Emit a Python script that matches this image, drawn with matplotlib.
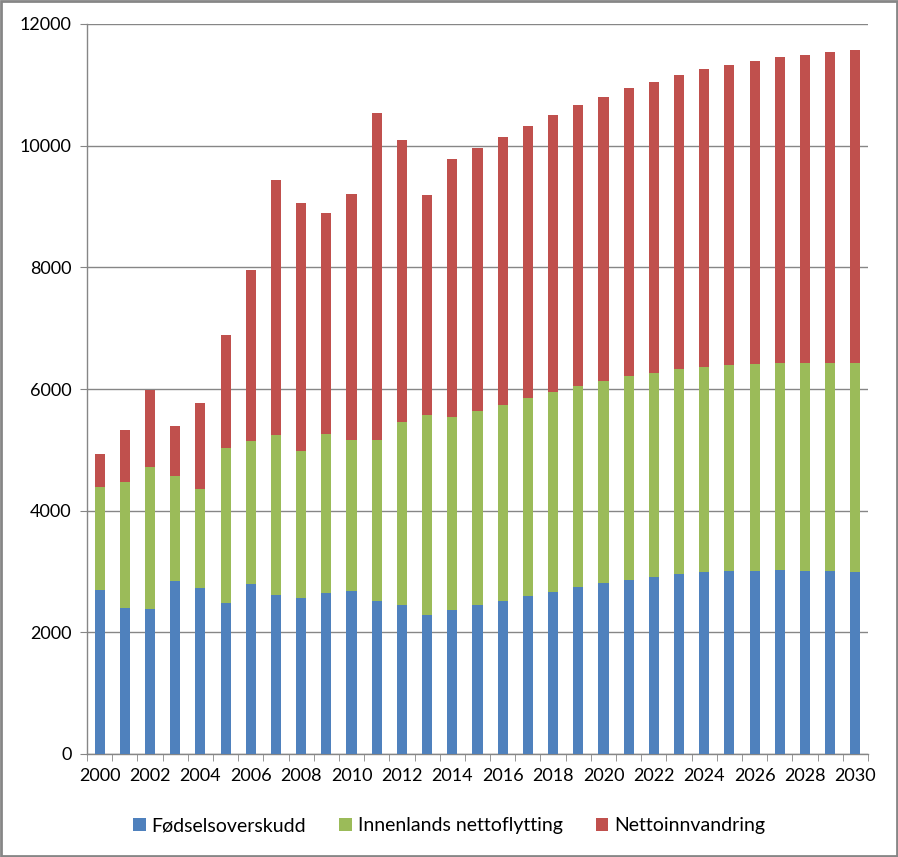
import matplotlib
matplotlib.use("Agg")
import matplotlib.pyplot as plt
import numpy as np

years = list(range(2000, 2031))
# cumulative tops
blue_top = [2693, 2397, 2381, 2841, 2726, 2480, 2791, 2611, 2562, 2644, 2676,
            2512, 2447, 2282, 2364, 2447, 2512, 2594, 2660, 2742, 2808,
            2857, 2906, 2956, 2988, 3005, 3005, 3021, 3005, 3005, 2988]
green_top = [4384, 4466, 4713, 4565, 4351, 5025, 5140, 5238, 4975, 5254, 5156,
             5156, 5451, 5566, 5534, 5632, 5731, 5846, 5944, 6043, 6125,
             6207, 6256, 6322, 6355, 6387, 6404, 6420, 6420, 6420, 6420]
red_top = [4926, 5320, 5990, 5386, 5763, 6880, 7964, 9442, 9064, 8900, 9212,
           10542, 10098, 9195, 9786, 9967, 10148, 10328, 10509, 10673, 10804,
           10952, 11051, 11166, 11264, 11330, 11395, 11461, 11494, 11543, 11576]

fodsel = np.array(blue_top)
innenlands = np.array(green_top) - np.array(blue_top)
netto = np.array(red_top) - np.array(green_top)

labels = ["Fødselsoverskudd", "Innenlands nettoflytting", "Nettoinnvandring"]
colors = ["#4F81BD", "#9BBB59", "#C0504D"]

plt.rcParams['font.family'] = ['Lato', 'DejaVu Sans']
fig = plt.figure(figsize=(8.98, 8.57), dpi=100)
ax = fig.add_axes([87/898, 103/857, 781/898, 730/857])

x = np.arange(len(years))
w = 0.4
ax.bar(x, fodsel, w, color=colors[0], label=labels[0], zorder=3)
ax.bar(x, innenlands, w, bottom=fodsel, color=colors[1], label=labels[1], zorder=3)
ax.bar(x, netto, w, bottom=fodsel + innenlands, color=colors[2], label=labels[2], zorder=3)

ax.set_xlim(-0.5, len(years) - 0.5)
ax.set_ylim(0, 12000)
ax.set_yticks(range(0, 12001, 2000))
ax.tick_params(axis='y', labelsize=13, length=5, color='#868686', pad=6)
ax.yaxis.grid(True, color='#868686', linewidth=1, zorder=0)
ax.set_axisbelow(True)

ax.set_xticks(x[::2])
ax.set_xticklabels([str(y) for y in years[::2]], fontsize=13)
ax.set_xticks(np.arange(-0.5, len(years), 1), minor=True)
ax.tick_params(axis='x', which='major', length=0, pad=10)
ax.tick_params(axis='x', which='minor', length=5, color='#868686')

for s in ['top', 'right']:
    ax.spines[s].set_visible(False)
for s in ['left', 'bottom']:
    ax.spines[s].set_color('#868686')
    ax.spines[s].set_linewidth(1)

handles, labs = ax.get_legend_handles_labels()
fig.legend(handles, labs, loc='center', bbox_to_anchor=(0.5, 1 - 826/857), ncol=3,
           frameon=False, fontsize=14, handlelength=0.65, handleheight=0.65,
           handletextpad=0.3, columnspacing=1.7)

border = plt.Rectangle((0.001, 0.001), 0.998, 0.998, transform=fig.transFigure,
                       fill=False, edgecolor='#868686', linewidth=2)
fig.patches.append(border)

fig.savefig("out.png", dpi=100)
